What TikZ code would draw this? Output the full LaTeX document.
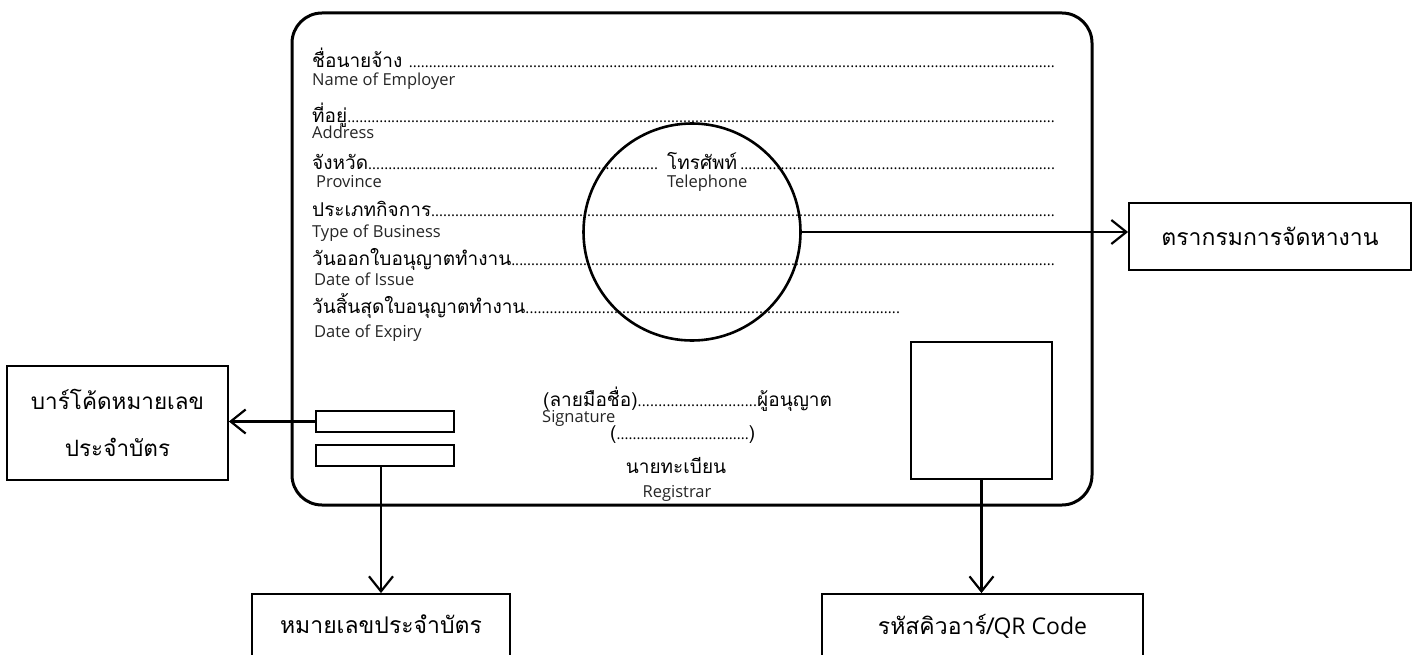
\documentclass[tikz,border=0pt]{standalone}
\usepackage{fontspec}
\setmainfont{Open Sans}
\newfontfamily\thai[Script=Thai]{Loma}
\usetikzlibrary{arrows.meta}
\newcommand\lead{\leavevmode\xleaders\hbox{\normalfont\fontsize{15}{18}\selectfont.}\hfill\kern0pt}
\tikzset{
  card/.style={line width=3pt, rounded corners=30pt},
  thin box/.style={draw, line width=2pt, inner sep=0pt},
  label box/.style={draw, line width=1.8pt, inner sep=0pt, align=center, font=\thai\fontsize{23}{47}\selectfont},
  conn/.style={line width=2.2pt, -{Straight Barb[length=15pt,width=24pt,line width=2.2pt]}},
  th/.style={anchor=base west, inner sep=0pt, font=\thai\fontsize{19}{22}\selectfont},
  en/.style={anchor=base west, inner sep=0pt, font=\fontsize{16.5}{19}\selectfont, text=black!85},
}
\begin{document}
\begin{tikzpicture}[x=1pt,y=-1pt]
\clip (0,0) rectangle (1421,655);
\fill[white] (0,0) rectangle (1421,655);
% card
\draw[card] (292,13) rectangle (1092,505);
% circle (stamp)
\node[draw, circle, line width=2.6pt, minimum size=217pt, inner sep=0pt] (stamp) at (692,232) {};
% text lines
\node[th] (l1) at (312,68) {\hbox to 743pt{ชื่อนายจ้าง \lead}};
\node[en] (e1) at (312,86) {Name of Employer};
\node[th] (l2) at (312,123) {\hbox to 743pt{ที่อยู่\lead}};
\node[en] (e2) at (312,139) {Address};
\node[th] (l3) at (312,170) {\hbox to 346pt{จังหวัด\lead}};
\node[th] (tel) at (667,170) {โทรศัพท์};
\node[th] (l3b) at (740,170) {\hbox to 315pt{\lead}};
\node[en] (e3) at (316,188) {Province};
\node[en] (e3b) at (667,188) {Telephone};
\node[th] (l4) at (312,217) {\hbox to 743pt{ประเภทกิจการ\lead}};
\node[en] (e4) at (312,237) {Type of Business};
\node[th] (l5) at (312,265) {\hbox to 743pt{วันออกใบอนุญาตทำงาน\lead}};
\node[en] (e5) at (314,285) {Date of Issue};
\node[th] (l6) at (312,313) {\hbox to 588pt{วันสิ้นสุดใบอนุญาตทำงาน\lead}};
\node[en] (e6) at (314,337) {Date of Expiry};
% signature block
\node[th] (sig) at (543,406) {\hbox to 214pt{(ลายมือชื่อ)\lead}ผู้อนุญาต};
\node[en] (sige) at (542,422) {Signature};
\node[th] (par) at (610,439) {\hbox to 145pt{(\lead)}};
\node[th, anchor=base] (reg) at (676,473) {นายทะเบียน};
\node[en, anchor=base] (rege) at (677,497) {Registrar};
% barcode boxes
\node[thin box, minimum width=138pt, minimum height=21pt] (bar1) at (385,421.5) {};
\node[thin box, minimum width=138pt, minimum height=21pt] (bar2) at (385,455.5) {};
% QR square
\node[draw, line width=2pt, minimum width=141pt, minimum height=137pt, inner sep=0pt] (qr) at (981.5,410.5) {};
% label boxes
\node[label box, font=\thai\fontsize{22.5}{47}\selectfont, minimum width=221pt, minimum height=114pt] (barlab) at (117.5,423) {บาร์โค้ดหมายเลข\\ประจำบัตร};
\node[label box, minimum width=282pt, minimum height=67pt] (dept) at (1270,236.5) {ตรากรมการจัดหางาน};
\node[label box, minimum width=258pt, text depth=30pt, minimum height=90pt] (num) at (381,639) {หมายเลขประจำบัตร};
\node[label box, minimum width=321pt, text depth=30pt, minimum height=90pt] (qrlab) at (982.5,639) {รหัสคิวอาร์/{\normalfont\fontsize{23}{26}\selectfont QR Code}};
% connectors
\draw[conn] (stamp.east) -- (stamp.east -| dept.west);
\draw[conn] (bar1.west) -- (bar1.west -| barlab.east);
\draw[conn] (bar2.south -| num.north) -- (num.north);
\draw[conn] (qr.south) -- (qr.south |- qrlab.north);
\end{tikzpicture}
\end{document}
